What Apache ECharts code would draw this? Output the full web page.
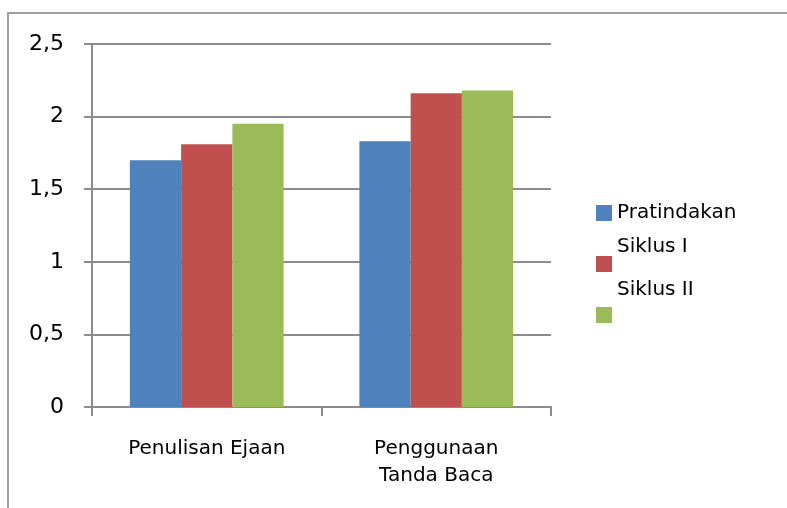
<!DOCTYPE html>
<html>
<head>
<meta charset="utf-8">
<script src="https://cdn.jsdelivr.net/npm/echarts@6/dist/echarts.min.js"></script>
<style>html,body{margin:0;padding:0;background:#fff}#c{width:787px;height:508px}</style>
</head>
<body>
<div id="c"></div>
<script>
var categories = ['Penulisan Ejaan', 'Penggunaan\nTanda Baca'];
var seriesNames = ['Pratindakan', 'Siklus I', 'Siklus II'];
var pratindakan = [1.70, 1.83];
var siklus1 = [1.81, 2.16];
var siklus2 = [1.95, 2.18];
var colors = ['#4F81BD', '#C0504D', '#9BBB59'];

var font = 'DejaVu Sans';
var chart = echarts.init(document.getElementById('c'), null, {renderer: 'canvas'});
var legendBase = {
  orient: 'vertical', left: 596, padding: 0, icon: 'rect', itemWidth: 16, itemHeight: 16,
  textStyle: {fontFamily: font, fontSize: 20, color: '#000'}, selectedMode: false
};
chart.setOption({
  animation: false,
  color: colors,
  graphic: [{type: 'rect', shape: {x: 8, y: 13, width: 800, height: 520}, style: {fill: 'none', stroke: '#a0a0a0', lineWidth: 2}}],
  grid: {left: 92, right: 236, top: 44, bottom: 101, containLabel: false},
  legend: [
    Object.assign({}, legendBase, {top: 203, data: ['Pratindakan']}),
    Object.assign({}, legendBase, {top: 230, data: ['Siklus I'],
      formatter: function (n) { return n + '\n '; },
      textStyle: {fontFamily: font, fontSize: 20, color: '#000', lineHeight: 34}}),
    Object.assign({}, legendBase, {top: 265, data: ['Siklus II'],
      formatter: function (n) { return n + '\n '; },
      textStyle: {fontFamily: font, fontSize: 20, color: '#000', lineHeight: 50}})
  ],
  xAxis: {
    type: 'category', data: categories,
    axisLine: {lineStyle: {color: '#8c8c8c', width: 2}},
    axisTick: {show: true, length: 9, lineStyle: {color: '#8c8c8c', width: 2}},
    axisLabel: {fontFamily: font, fontSize: 20, color: '#000', margin: 28, lineHeight: 27}
  },
  yAxis: {
    type: 'value', min: 0, max: 2.5, interval: 0.5,
    axisLine: {show: true, lineStyle: {color: '#8c8c8c', width: 2}},
    axisTick: {show: true, length: 8, lineStyle: {color: '#8c8c8c', width: 2}},
    splitLine: {lineStyle: {color: '#8c8c8c', width: 2}},
    axisLabel: {fontFamily: font, fontSize: 22, color: '#000', margin: 28,
      formatter: function (v) { return String(v).replace('.', ','); }}
  },
  series: [
    {name: seriesNames[0], type: 'bar', data: pratindakan, barGap: '0%', barCategoryGap: '33%'},
    {name: seriesNames[1], type: 'bar', data: siklus1, barGap: '0%', barCategoryGap: '33%'},
    {name: seriesNames[2], type: 'bar', data: siklus2, barGap: '0%', barCategoryGap: '33%'}
  ]
});
</script>
</body>
</html>
